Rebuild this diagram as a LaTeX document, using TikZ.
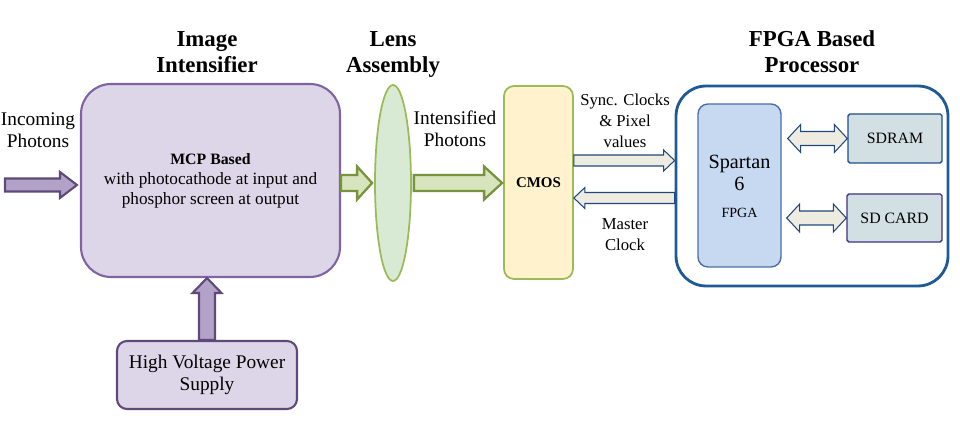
\documentclass[tikz,border=0pt]{standalone}
\usepackage{fontspec}
\setmainfont{Liberation Serif}
\usetikzlibrary{positioning}
\usetikzlibrary{shapes.geometric}
\usetikzlibrary{calc}

\definecolor{lav}{HTML}{DDD5E8}
\definecolor{purp}{HTML}{8064A2}
\definecolor{dpurp}{HTML}{5F497A}
\definecolor{apurp}{HTML}{B3A2C7}
\definecolor{lgreen}{HTML}{D8EAD3}
\definecolor{grn}{HTML}{9BBB59}
\definecolor{agreen}{HTML}{D7E4BD}
\definecolor{dgreen}{HTML}{77933C}
\definecolor{cream}{HTML}{FFF2CC}
\definecolor{beige}{HTML}{EEECE1}
\definecolor{navy}{HTML}{1F497D}
\definecolor{fblue}{HTML}{1E5A96}
\definecolor{sblue}{HTML}{C6D9F1}
\definecolor{sbord}{HTML}{4A6FA5}
\definecolor{mem}{HTML}{D2E0E4}
\definecolor{memb}{HTML}{1F4E8C}
\definecolor{cardb}{HTML}{3F3185}

\tikzstyle{T} = [align=center,inner sep=0pt,font=\fontsize{13}{14.7}\selectfont\bfseries]
\tikzstyle{L} = [align=center,inner sep=0pt,font=\fontsize{11}{12.5}\selectfont]
\tikzstyle{S} = [L,font=\fontsize{9.5}{12}\selectfont]
\tikzstyle{P} = [rectangle,rounded corners=0.6cm,fill=lav,draw=purp,line width=1.2pt]
\tikzstyle{Q} = [P,rounded corners=0.2cm,draw=dpurp]
\tikzstyle{M} = [rectangle,rounded corners=1pt,fill=mem,draw=memb,line width=0.8pt,
  font=\fontsize{9}{11}\selectfont]
\tikzstyle{PA} = [fill=apurp,draw=dpurp,line width=1.2pt]
\tikzstyle{GA} = [fill=agreen,draw=dgreen,line width=1.3pt]
\tikzstyle{BA} = [fill=beige,draw=navy,line width=0.6pt]

% style, from, to, half shaft, half head, head length
\newcommand{\fatarrow}[6]{%
  \path ($(#3)!#6!(#2)$) coordinate (hb);
  \draw[#1] ($(#2)!#4!90:(#3)$) -- ($(hb)!#4!90:(#3)$) -- ($(hb)!#5!90:(#3)$) -- (#3)
    -- ($(hb)!#5!-90:(#3)$) -- ($(hb)!#4!-90:(#3)$) -- ($(#2)!#4!-90:(#3)$) -- cycle;}
\newcommand{\dblarrow}[6]{%
  \path ($(#2)!#6!(#3)$) coordinate (ha) ($(#3)!#6!(#2)$) coordinate (hb);
  \draw[#1] (#2) -- ($(ha)!#5!90:(#3)$) -- ($(ha)!#4!90:(#3)$) -- ($(hb)!#4!90:(#3)$)
    -- ($(hb)!#5!90:(#3)$) -- (#3) -- ($(hb)!#5!-90:(#3)$) -- ($(hb)!#4!-90:(#3)$)
    -- ($(ha)!#4!-90:(#3)$) -- ($(ha)!#5!-90:(#3)$) -- cycle;}

\begin{document}
\begin{tikzpicture}[x=0.02cm,y=-0.02cm]
  \useasboundingbox (0,0) rectangle (960,431);

  \node [P,minimum width=5.18cm,minimum height=3.86cm,align=center,
    font=\fontsize{9.8}{11.3}\selectfont] (n1) at (210.5,180.5)
    {{\fontsize{9}{11.3}\selectfont\bfseries MCP Based}\\with photocathode at input and\\phosphor screen at output};
  \node [T] (t1) at (207,54) {\strut Image\\Intensifier\strut};
  \node [L] (t2) at (38,130) {Incoming\\Photons};
  \node [Q,minimum width=3.6cm,minimum height=1.36cm,align=center,
    font=\fontsize{11}{12.5}\selectfont] (n2) at (207,375) {High Voltage Power\\Supply};

  \node [ellipse,fill=lgreen,draw=grn,line width=1pt,minimum width=0.72cm,
    minimum height=3.92cm,inner sep=0pt] (n3) at (393,183) {};
  \node [T] (t3) at (t1 -| n3) {\strut Lens\\Assembly\strut};
  \node [L] (t4) at (455,129) {Intensified\\Photons};

  \node [rectangle,rounded corners=0.2cm,fill=cream,draw=grn,line width=1pt,
    minimum width=1.38cm,minimum height=3.86cm,
    font=\fontsize{8.5}{10}\selectfont\bfseries] (n4) at (538.5,182.5) {CMOS};

  \node [rectangle,rounded corners=0.6cm,fill=white,draw=fblue,line width=1.6pt,
    minimum width=5.44cm,minimum height=4cm] (n5) at (812,186) {};
  \node [T] (t5) at (t1 -| n5) {\strut FPGA Based\\Processor\strut};
  \node [rectangle,rounded corners=0.2cm,fill=sblue,draw=sbord,line width=0.8pt,
    minimum width=1.66cm,minimum height=3.26cm] (n6) at (739.5,185.5) {};
  \node [font=\fontsize{11.5}{12.5}\selectfont,align=center] (n61) at (739.5,173)
    {Spartan\\6};
  \node [font=\fontsize{8}{10}\selectfont] (n62) at (739.5,213) {FPGA};
  \node [M,minimum width=1.88cm,minimum height=0.98cm] (n7) at (895,138.5) {SDRAM};
  \node [M,draw=cardb,minimum width=1.9cm,minimum height=0.96cm] (n8) at (894.5,218) {SD CARD};

  \node [S] (t6) at (625,121) {Sync. Clocks\\\& Pixel\\values};
  \node [S] (t7) at (625,235) {Master\\Clock};

  % photons in and power
  \coordinate (in) at (5,185);
  \coordinate (i1) at ($(n1.west |- in)+(-3,0)$);
  \fatarrow{PA}{in}{i1}{0.13cm}{0.26cm}{0.34cm}
  \coordinate (h1) at (n2.north -| 207,0);
  \coordinate (h2) at (n1.south -| 207,0);
  \fatarrow{PA}{h1}{h2}{0.16cm}{0.29cm}{0.3cm}

  % optics
  \coordinate (g1) at (n1.east |- n3);
  \coordinate (g2) at ($(n3.west)+(-2,0)$);
  \fatarrow{GA}{g1}{g2}{0.16cm}{0.33cm}{0.3cm}
  \coordinate (g3) at ($(n3.east)+(2,0)$);
  \coordinate (g4) at ($(n4.west |- n3)+(-1,0)$);
  \fatarrow{GA}{g3}{g4}{0.16cm}{0.33cm}{0.36cm}

  % cmos <-> fpga
  \coordinate (s1) at ([yshift=0.44cm]n4.east);
  \coordinate (s2) at (s1 -| n5.west);
  \fatarrow{BA}{s1}{s2}{0.11cm}{0.21cm}{0.22cm}
  \coordinate (m1) at ([yshift=-0.31cm]n4.east);
  \coordinate (m2) at (m1 -| n5.west);
  \fatarrow{BA}{m2}{m1}{0.11cm}{0.21cm}{0.22cm}

  % memory
  \coordinate (d1) at ($(n6.east |- n7)+(6,0)$);
  \dblarrow{BA}{d1}{n7.west}{0.14cm}{0.28cm}{0.26cm}
  \coordinate (d2) at ($(n6.east |- n8)+(5,0)$);
  \dblarrow{BA}{d2}{n8.west}{0.14cm}{0.28cm}{0.26cm}
\end{tikzpicture}
\end{document}
